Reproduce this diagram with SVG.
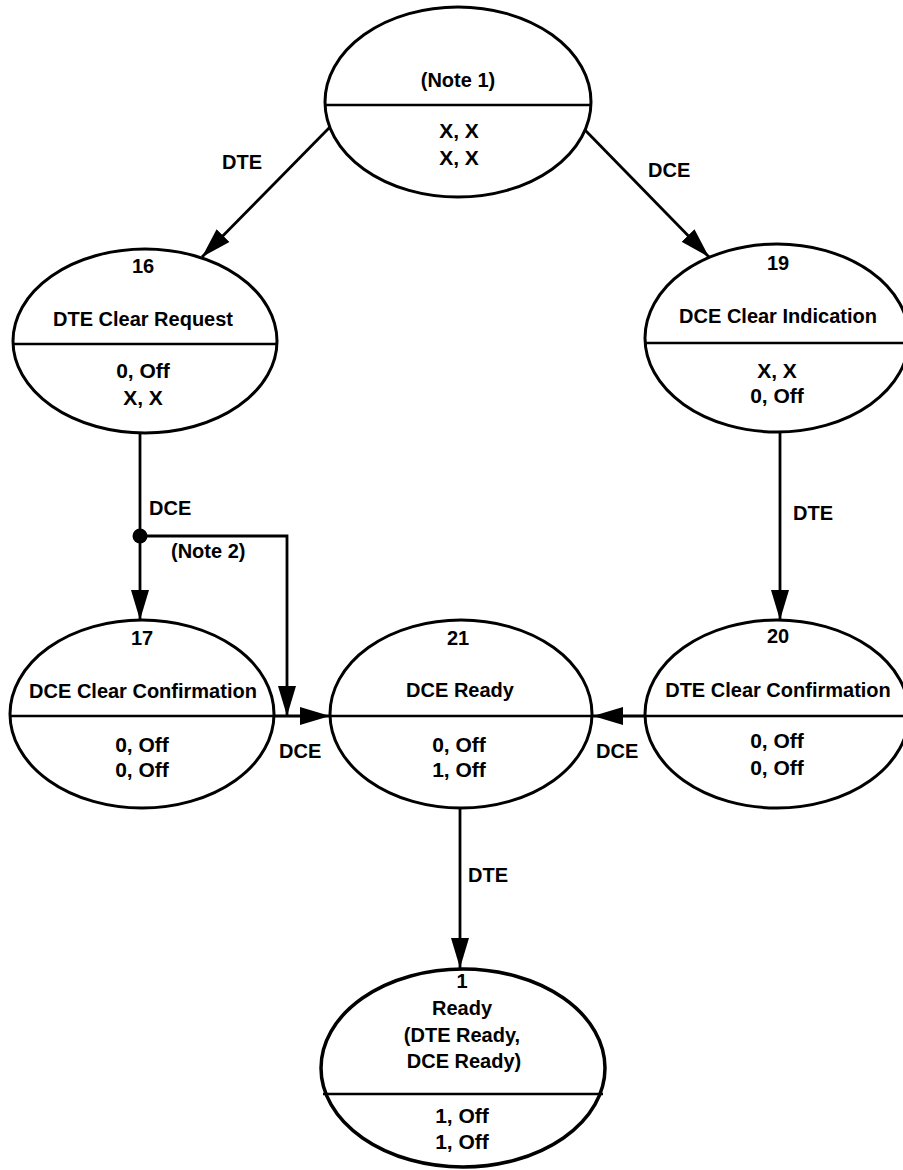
<svg xmlns="http://www.w3.org/2000/svg" width="903" height="1170" viewBox="0 0 903 1170">
<style>
.node{fill:#fff;stroke:#000;stroke-width:3}
.div{stroke:#000;stroke-width:2.5}
.t{font-family:"Liberation Sans",Arial,Helvetica,sans-serif;font-weight:bold;font-size:20px;fill:#000;text-anchor:middle}
.v{font-family:"Liberation Sans",Arial,Helvetica,sans-serif;font-weight:bold;font-size:21px;fill:#000;text-anchor:middle}
.lbl{font-family:"Liberation Sans",Arial,Helvetica,sans-serif;font-weight:bold;font-size:20px;fill:#000}
.edge{fill:none;stroke:#000;stroke-width:2.8}
</style>
<defs>
<marker id="arr" markerUnits="userSpaceOnUse" markerWidth="30" markerHeight="20" viewBox="0 0 30 20" refX="30" refY="10" orient="auto">
<path d="M0,1 L30,10 L0,19 Z" fill="#000"/>
</marker>
</defs>
<rect width="903" height="1170" fill="#fff"/>

<g id="connectors">
<line class="edge" x1="330" y1="127" x2="202" y2="257" marker-end="url(#arr)"/>
<line class="edge" x1="585" y1="130" x2="709" y2="257" marker-end="url(#arr)"/>
<line class="edge" x1="140" y1="433" x2="140" y2="620" marker-end="url(#arr)"/>
<circle cx="140" cy="536" r="7.5" fill="#000"/>
<polyline class="edge" points="140,536 287,536 287,716" marker-end="url(#arr)"/>
<line class="edge" x1="275" y1="716" x2="330" y2="716" marker-end="url(#arr)"/>
<line class="edge" x1="780" y1="432" x2="780" y2="620" marker-end="url(#arr)"/>
<line class="edge" x1="645" y1="716" x2="593" y2="716" marker-end="url(#arr)"/>
<line class="edge" x1="460" y1="808" x2="460" y2="968" marker-end="url(#arr)"/>
<text class="lbl" x="222" y="169">DTE</text>
<text class="lbl" x="648" y="177">DCE</text>
<text class="lbl" x="149" y="515">DCE</text>
<text class="lbl" x="171" y="558">(Note 2)</text>
<text class="lbl" x="793" y="520">DTE</text>
<text class="lbl" x="279" y="758">DCE</text>
<text class="lbl" x="596" y="758">DCE</text>
<text class="lbl" x="468" y="882">DTE</text>
</g>

<g id="node-start">
<ellipse class="node" cx="458" cy="102" rx="133" ry="95"/>
<line class="div" x1="325" y1="105" x2="591" y2="105"/>
<text class="t" x="458" y="87">(Note 1)</text>
<text class="v" x="459" y="138">X, X</text>
<text class="v" x="459" y="165">X, X</text>
</g>

<g id="node-16">
<ellipse class="node" cx="145" cy="341" rx="132" ry="92"/>
<line class="div" x1="13" y1="344" x2="277" y2="344"/>
<text class="t" x="143" y="273">16</text>
<text class="t" x="143" y="326">DTE Clear Request</text>
<text class="v" x="143" y="378">0, Off</text>
<text class="v" x="143" y="405">X, X</text>
</g>

<g id="node-19">
<ellipse class="node" cx="777" cy="338" rx="132" ry="94"/>
<line class="div" x1="645" y1="343" x2="903" y2="343"/>
<text class="t" x="778" y="270">19</text>
<text class="t" x="778" y="323">DCE Clear Indication</text>
<text class="v" x="777" y="378">X, X</text>
<text class="v" x="777" y="403">0, Off</text>
</g>

<g id="node-17">
<ellipse class="node" cx="142" cy="714" rx="132" ry="94"/>
<line class="div" x1="10" y1="716" x2="275" y2="716"/>
<text class="t" x="142" y="645">17</text>
<text class="t" x="143" y="698">DCE Clear Confirmation</text>
<text class="v" x="142" y="752">0, Off</text>
<text class="v" x="142" y="777">0, Off</text>
</g>

<g id="node-21">
<ellipse class="node" cx="461" cy="714" rx="131" ry="94"/>
<line class="div" x1="330" y1="716" x2="592" y2="716"/>
<text class="t" x="458" y="645">21</text>
<text class="t" x="460" y="697">DCE Ready</text>
<text class="v" x="459" y="752">0, Off</text>
<text class="v" x="459" y="777">1, Off</text>
</g>

<g id="node-20">
<ellipse class="node" cx="777" cy="714" rx="132" ry="94"/>
<line class="div" x1="645" y1="716" x2="903" y2="716"/>
<text class="t" x="778" y="643">20</text>
<text class="t" x="778" y="697">DTE Clear Confirmation</text>
<text class="v" x="777" y="748">0, Off</text>
<text class="v" x="777" y="775">0, Off</text>
</g>

<g id="node-1">
<ellipse class="node" cx="463" cy="1068" rx="142" ry="99" style="stroke-width:3.5"/>
<line class="div" x1="323" y1="1094" x2="603" y2="1094"/>
<text class="t" x="462" y="988">1</text>
<text class="t" x="462" y="1015">Ready</text>
<text class="t" x="462" y="1042">(DTE Ready,</text>
<text class="t" x="464" y="1068">DCE Ready)</text>
<text class="v" x="462" y="1123">1, Off</text>
<text class="v" x="462" y="1149">1, Off</text>
</g>
</svg>
